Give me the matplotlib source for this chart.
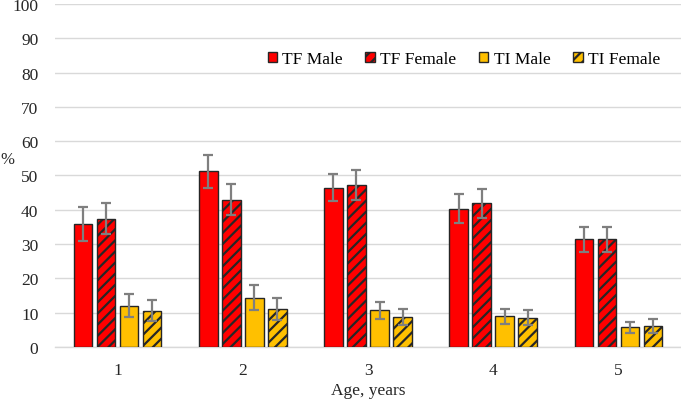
import numpy as np
import matplotlib
matplotlib.use("Agg")
import matplotlib.pyplot as plt

# data
ages = ["1", "2", "3", "4", "5"]
series = ["TF Male", "TF Female", "TI Male", "TI Female"]
tf_male = [35.9, 51.3, 46.5, 40.3, 31.4]
tf_male_err = [4.9, 4.8, 4.0, 4.2, 3.7]
tf_female = [37.4, 43.0, 47.2, 41.9, 31.4]
tf_female_err = [4.6, 4.6, 4.3, 4.2, 3.7]
ti_male = [12.1, 14.4, 10.7, 9.0, 5.8]
ti_male_err = [3.3, 3.7, 2.5, 2.2, 1.6]
ti_female = [10.6, 11.1, 8.7, 8.6, 6.1]
ti_female_err = [3.0, 3.2, 2.4, 2.2, 2.0]

plt.rcParams['font.family'] = ['Liberation Serif', 'DejaVu Serif']
plt.rcParams['hatch.linewidth'] = 1.6

fig = plt.figure(figsize=(6.81, 4.02), dpi=100)
ax = fig.add_axes([0.0808, 0.1343, 0.9192, 0.8533])

values = [tf_male, tf_female, ti_male, ti_female]
errors = [tf_male_err, tf_female_err, ti_male_err, ti_female_err]
colors = ['#ff0000', '#ff0000', '#ffc000', '#ffc000']
hatches = [None, '///', None, '///']

x = np.arange(len(ages))
pitch = 0.184
width = 0.148
for i in range(4):
    pos = x + (i - 1.5) * pitch
    ax.bar(pos, values[i], width, color=colors[i], edgecolor='#262626',
           linewidth=1.0, hatch=hatches[i], label=series[i], zorder=3)
    ax.errorbar(pos, values[i], yerr=errors[i], fmt='none', ecolor='#7f7f7f',
                elinewidth=1.6, capsize=3.5, capthick=1.6, zorder=4)

ax.set_xlim(-0.5, 4.5)
ax.set_ylim(0, 100)
ax.set_yticks(range(0, 101, 10))
ax.set_xticks(x)
ax.set_xticklabels(ages)
ax.tick_params(length=0, labelsize=12.5, colors='#262626')
ax.tick_params(axis='x', pad=11)
ax.tick_params(axis='y', pad=12)
ax.grid(axis='y', color='#d9d9d9', linewidth=1.0, zorder=0)
for s in ['top', 'right', 'left']:
    ax.spines[s].set_visible(False)
ax.spines['bottom'].set_color('#d9d9d9')
ax.spines['bottom'].set_linewidth(1.0)

ax.set_xlabel("Age, years", fontsize=12.5, labelpad=3, color='#262626')
fig.text(0.0, 1 - 160 / 402, "%", fontsize=12, va='center', ha='left', color='#262626')

ax.legend(loc='center', bbox_to_anchor=(0.681, 0.851), bbox_transform=fig.transFigure,
          ncol=4, frameon=False, fontsize=12.5, handlelength=0.55, handleheight=0.55,
          handletextpad=0.3, columnspacing=1.3, borderpad=0)

fig.savefig("out.png", dpi=100)
